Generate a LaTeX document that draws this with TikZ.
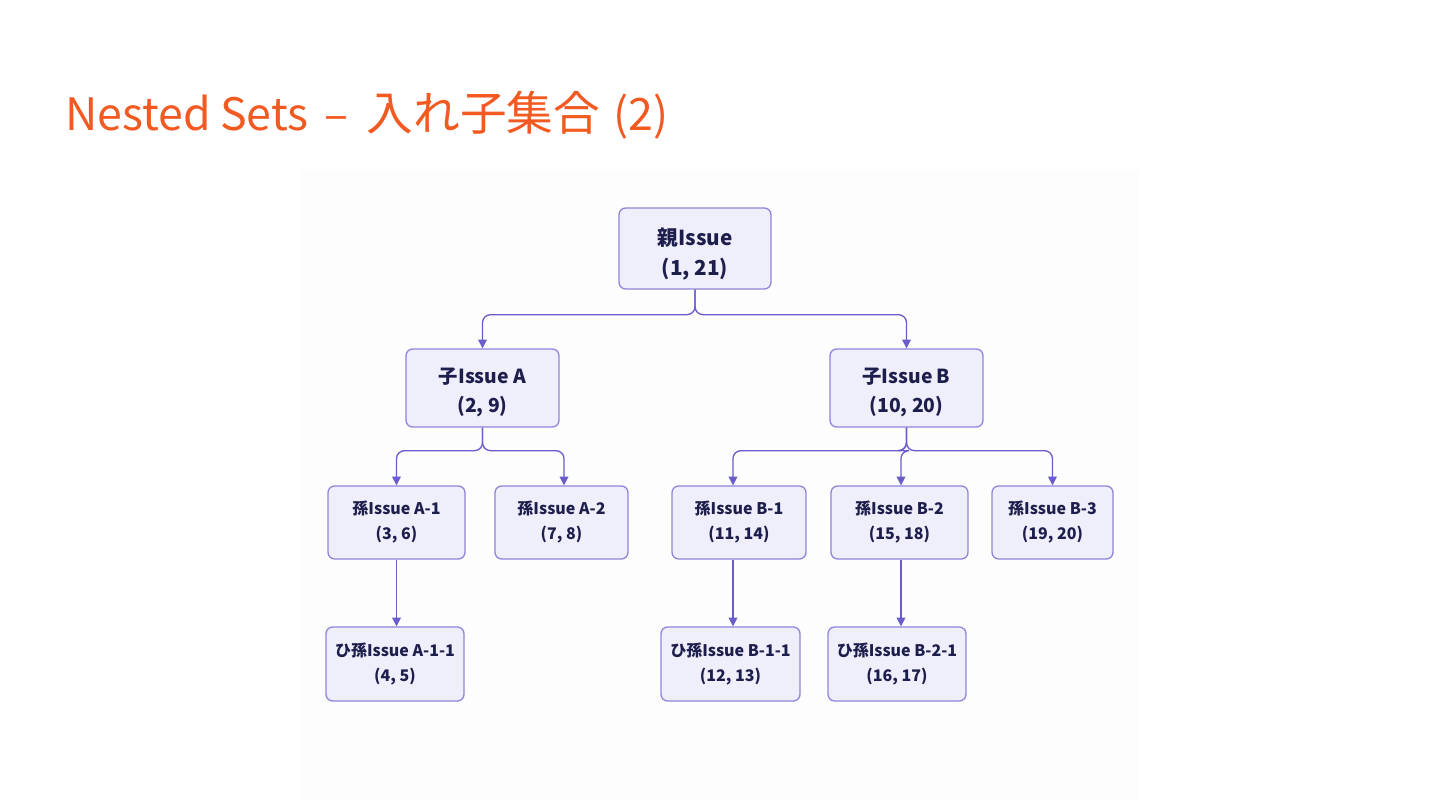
\documentclass[tikz,border=0pt]{standalone}
\usepackage{fontspec}
\setmainfont{Noto Sans CJK JP}
\newfontfamily\jpfont{Noto Sans CJK JP}
\usetikzlibrary{arrows.meta,calc}
\definecolor{titlecol}{HTML}{F25A22}
\definecolor{boxfill}{HTML}{EFEEFB}
\definecolor{boxline}{HTML}{8E86DA}
\definecolor{conncol}{HTML}{6A5CCB}
\definecolor{txtcol}{HTML}{1E1E4C}
\definecolor{panel}{HTML}{FDFDFD}
\newcommand{\pushA}{\rule{0pt}{21pt}}
\newcommand{\pushB}{\rule{0pt}{19pt}}
\tikzset{
  box/.style={draw=boxline, fill=boxfill, line width=1pt, rounded corners=5pt,
    align=center, inner sep=0pt, text=txtcol},
  lvlone/.style={box, minimum width=114pt, minimum height=60.75pt, font=\jpfont\bfseries\fontsize{15.5pt}{22.5pt}\selectfont},
  lvltwo/.style={box, minimum width=114.75pt, minimum height=58.5pt, font=\jpfont\bfseries\fontsize{14.5pt}{21.75pt}\selectfont},
  lvlthree/.style={box, minimum height=54.75pt, font=\jpfont\bfseries\fontsize{12pt}{18.75pt}\selectfont},
  lvlfour/.style={box, minimum height=55.5pt, font=\jpfont\bfseries\fontsize{12pt}{18.75pt}\selectfont},
  conn/.style={draw=conncol, line width=1pt, rounded corners=6pt, -{Triangle[length=6.5pt,width=6.5pt]}}
}
\begin{document}
\begin{tikzpicture}[x=0.75pt,y=-0.75pt]
\useasboundingbox (0,0) rectangle (1440,810);
\fill[white] (0,0) rectangle (1440,810);
\fill[panel] (300,170) rectangle (1138,800);
\node[anchor=base west, text=titlecol, inner sep=0pt, font=\jpfont\fontsize{33.5pt}{40pt}\selectfont] (title) at (65,130)
  {Nested\hspace{7pt}Sets\hspace{12pt}–\hspace{14pt}{\fontsize{35pt}{40pt}\selectfont 入れ子集合}\hspace{10pt}(2)};

\node[lvlone] (root) at (695,248.5) {\pushA 親Issue\\(1, 21)};
\node[lvltwo] (ca) at (482.5,388) {\pushB 子Issue A\\(2, 9)};
\node[lvltwo] (cb) at (906.5,388) {\pushB 子Issue B\\(10, 20)};

\node[lvlthree, minimum width=102.75pt] (ga1) at (396.5,522.5) {孫Issue A-1\\(3, 6)};
\node[lvlthree, minimum width=99.75pt] (ga2) at (561.5,522.5) {孫Issue A-2\\(7, 8)};
\node[lvlthree, minimum width=100.5pt] (gb1) at (739,522.5) {孫Issue B-1\\(11, 14)};
\node[lvlthree, minimum width=102.75pt] (gb2) at (899.5,522.5) {孫Issue B-2\\(15, 18)};
\node[lvlthree, minimum width=90.75pt] (gb3) at (1052.5,522.5) {孫Issue B-3\\(19, 20)};

\node[lvlfour, minimum width=103.5pt] (ha11) at (395,664) {ひ孫Issue A-1-1\\(4, 5)};
\node[lvlfour, minimum width=104.25pt] (hb11) at (730.5,664) {ひ孫Issue B-1-1\\(12, 13)};
\node[lvlfour, minimum width=103.5pt] (hb21) at (897,664) {ひ孫Issue B-2-1\\(16, 17)};

% root -> children
\coordinate (j0) at ($(root.south)+(0,25)$);
\draw[conn] (root.south) -- (j0) -| (ca.north);
\draw[conn] (root.south) -- (j0) -| (cb.north);
% A -> grandchildren
\coordinate (j1) at ($(ca.south)+(0,23)$);
\draw[conn] (ca.south) -- (j1) -| (ga1.north);
\draw[conn] (ca.south) -- (j1) -| ($(ga2.north)+(2.5,0)$);
% B -> grandchildren
\coordinate (j2) at ($(cb.south)+(0,23)$);
\coordinate (b1top) at ($(gb1.north)+(-6,0)$);
\coordinate (b2top) at ($(gb2.north)+(1.5,0)$);
\draw[conn] (cb.south) -- (j2) -| (b1top);
\draw[conn] (cb.south) -- (j2) -| (b2top);
\draw[conn] (cb.south) -- (j2) -| (gb3.north);
% grandchildren -> great-grandchildren
\draw[conn] (ga1.south) -- (ha11.north -| ga1.south);
\coordinate (b1bot) at ($(gb1.south)+(-6,0)$);
\draw[conn] (b1bot) -- (hb11.north -| b1bot);
\coordinate (b2bot) at ($(gb2.south)+(1.5,0)$);
\draw[conn] (b2bot) -- (hb21.north -| b2bot);
\end{tikzpicture}
\end{document}
